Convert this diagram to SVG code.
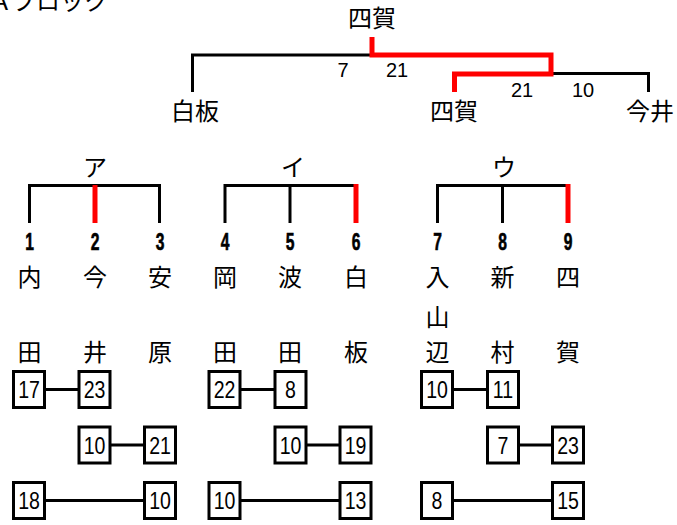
<svg xmlns="http://www.w3.org/2000/svg" width="677" height="525" viewBox="0 0 677 525">
<style>
.k{stroke:#000;stroke-width:3;fill:none}
.r{stroke:#ff0000;stroke-width:5;fill:none}
.j{font-family:"Noto Sans CJK JP","Noto Sans CJK SC",sans-serif;font-size:24px;fill:#000;text-anchor:middle}
.s{font-family:"Liberation Sans",Arial,sans-serif;font-size:20px;fill:#000;text-anchor:middle}
.n{font-family:"Liberation Sans",Arial,sans-serif;font-weight:bold;font-size:23px;fill:#000;text-anchor:middle;stroke:#000;stroke-width:0.6}
.b rect{fill:#fff;stroke:#000;stroke-width:3}
.b text{font-family:"Liberation Sans",Arial,sans-serif;font-size:23px;fill:#000;text-anchor:middle}
</style>
<rect width="677" height="525" fill="#fff"/>
<text class="j" x="-12" y="10" style="text-anchor:start">Ａブロック</text>

<g id="connectors">
  <path class="k" d="M192.5,92 V55 H372"/>
  <path class="k" d="M551,73.5 H648.5 V92"/>
  <path class="r" d="M372,37 V55 H551 V74 H454.5 V92"/>
  <path class="k" d="M29.5,223 V185.5 H161"/>
  <path class="k" d="M159.5,185.5 V223"/>
  <path class="r" d="M95,185 V223"/>
  <path class="k" d="M225,223 V185.5 H356"/>
  <path class="k" d="M290,185.5 V223"/>
  <path class="r" d="M356,184 V223"/>
  <path class="k" d="M437.5,223 V185.5 H568"/>
  <path class="k" d="M502.5,185.5 V223"/>
  <path class="r" d="M568,184 V223"/>
  <path class="k" d="M29,389.5 H94.5 M94.5,445 H160 M29,500.5 H160"/>
  <path class="k" d="M224.5,389.5 H290.5 M290.5,445 H355.5 M224.5,500.5 H355.5"/>
  <path class="k" d="M437,389.5 H503 M503,445 H568 M437,500.5 H568"/>
</g>

<g id="final">
  <text class="j" x="372" y="27">四賀</text>
  <text class="s" x="343" y="77">7</text>
  <text class="s" x="397" y="77">21</text>
  <text class="s" x="522" y="97">21</text>
  <text class="s" x="583" y="97">10</text>
  <text class="j" x="195" y="120">白板</text>
  <text class="j" x="454" y="120">四賀</text>
  <text class="j" x="650" y="120">今井</text>
</g>

<g id="group-a">
  <text class="j" x="95" y="176">ア</text>
  <text class="n" transform="translate(29.5,249.5) scale(0.68,1)">1</text>
  <text class="n" transform="translate(95,249.5) scale(0.68,1)">2</text>
  <text class="n" transform="translate(160,249.5) scale(0.68,1)">3</text>
  <text class="j" x="29.5" y="286">内</text>
  <text class="j" x="95" y="286">今</text>
  <text class="j" x="160" y="286">安</text>
  <text class="j" x="29.5" y="361">田</text>
  <text class="j" x="95" y="361">井</text>
  <text class="j" x="160" y="361">原</text>
</g>

<g id="group-i">
  <text class="j" x="293" y="176">イ</text>
  <text class="n" transform="translate(225,249.5) scale(0.68,1)">4</text>
  <text class="n" transform="translate(290,249.5) scale(0.68,1)">5</text>
  <text class="n" transform="translate(356,249.5) scale(0.68,1)">6</text>
  <text class="j" x="225" y="286">岡</text>
  <text class="j" x="290" y="286">波</text>
  <text class="j" x="356" y="286">白</text>
  <text class="j" x="225" y="361">田</text>
  <text class="j" x="290" y="361">田</text>
  <text class="j" x="356" y="361">板</text>
</g>

<g id="group-u">
  <text class="j" x="504" y="176">ウ</text>
  <text class="n" transform="translate(437.5,249.5) scale(0.68,1)">7</text>
  <text class="n" transform="translate(502.5,249.5) scale(0.68,1)">8</text>
  <text class="n" transform="translate(568,249.5) scale(0.68,1)">9</text>
  <text class="j" x="437.5" y="286">入</text>
  <text class="j" x="502.5" y="286">新</text>
  <text class="j" x="568" y="286">四</text>
  <text class="j" x="437.5" y="326">山</text>
  <text class="j" x="437.5" y="361">辺</text>
  <text class="j" x="502.5" y="361">村</text>
  <text class="j" x="568" y="361">賀</text>
</g>

<g id="scores-a" class="b">
  <rect x="13.5" y="371.5" width="31" height="36"/><text transform="translate(29,398) scale(0.85,1)">17</text>
  <rect x="79" y="371.5" width="31" height="36"/><text transform="translate(94.5,398) scale(0.85,1)">23</text>
  <rect x="79" y="427" width="31" height="36"/><text transform="translate(94.5,453.5) scale(0.85,1)">10</text>
  <rect x="144.5" y="427" width="31" height="36"/><text transform="translate(160,453.5) scale(0.85,1)">21</text>
  <rect x="13.5" y="482.5" width="31" height="36"/><text transform="translate(29,509) scale(0.85,1)">18</text>
  <rect x="144.5" y="482.5" width="31" height="36"/><text transform="translate(160,509) scale(0.85,1)">10</text>
</g>

<g id="scores-i" class="b">
  <rect x="209" y="371.5" width="31" height="36"/><text transform="translate(224.5,398) scale(0.85,1)">22</text>
  <rect x="275" y="371.5" width="31" height="36"/><text transform="translate(290.5,398) scale(0.85,1)">8</text>
  <rect x="275" y="427" width="31" height="36"/><text transform="translate(290.5,453.5) scale(0.85,1)">10</text>
  <rect x="340" y="427" width="31" height="36"/><text transform="translate(355.5,453.5) scale(0.85,1)">19</text>
  <rect x="209" y="482.5" width="31" height="36"/><text transform="translate(224.5,509) scale(0.85,1)">10</text>
  <rect x="340" y="482.5" width="31" height="36"/><text transform="translate(355.5,509) scale(0.85,1)">13</text>
</g>

<g id="scores-u" class="b">
  <rect x="421.5" y="371.5" width="31" height="36"/><text transform="translate(437,398) scale(0.85,1)">10</text>
  <rect x="487.5" y="371.5" width="31" height="36"/><text transform="translate(503,398) scale(0.85,1)">11</text>
  <rect x="487.5" y="427" width="31" height="36"/><text transform="translate(503,453.5) scale(0.85,1)">7</text>
  <rect x="552.5" y="427" width="31" height="36"/><text transform="translate(568,453.5) scale(0.85,1)">23</text>
  <rect x="421.5" y="482.5" width="31" height="36"/><text transform="translate(437,509) scale(0.85,1)">8</text>
  <rect x="552.5" y="482.5" width="31" height="36"/><text transform="translate(568,509) scale(0.85,1)">15</text>
</g>
</svg>
